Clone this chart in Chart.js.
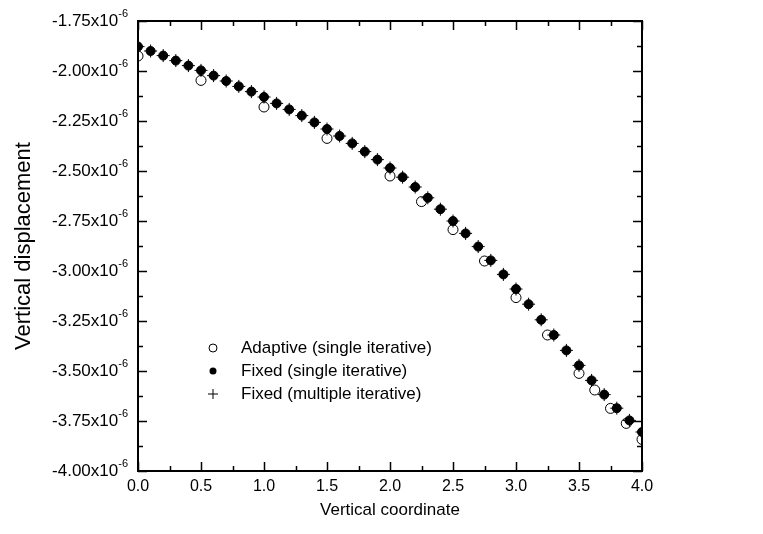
<!DOCTYPE html>
<html>
<head>
<meta charset="utf-8">
<script src="https://cdn.jsdelivr.net/npm/chart.js@4/dist/chart.umd.min.js"></script>
<style>
html,body{margin:0;padding:0;background:#fff;}
canvas{display:block;}
</style>
</head>
<body>
<canvas id="c" width="763" height="534"></canvas>
<script>
// ---- data ----
const fixedX = [0.0,0.1,0.2,0.3,0.4,0.5,0.6,0.7,0.8,0.9,1.0,1.1,1.2,1.3,1.4,1.5,1.6,1.7,1.8,1.9,2.0,
                2.1,2.2,2.3,2.4,2.5,2.6,2.7,2.8,2.9,3.0,3.1,3.2,3.3,3.4,3.5,3.6,3.7,3.8,3.9,4.0];
const fixedSingleY = [-1.878e-6,-1.900e-6,-1.923e-6,-1.948e-6,-1.973e-6,-1.997e-6,-2.023e-6,-2.050e-6,-2.077e-6,-2.103e-6,
                -2.130e-6,-2.162e-6,-2.192e-6,-2.223e-6,-2.257e-6,-2.290e-6,-2.325e-6,-2.362e-6,-2.403e-6,-2.443e-6,
                -2.485e-6,-2.531e-6,-2.580e-6,-2.634e-6,-2.691e-6,-2.750e-6,-2.812e-6,-2.878e-6,-2.947e-6,-3.017e-6,
                -3.090e-6,-3.166e-6,-3.244e-6,-3.320e-6,-3.397e-6,-3.472e-6,-3.547e-6,-3.618e-6,-3.686e-6,-3.747e-6,-3.805e-6];
const fixedMultipleY = [-1.878e-6,-1.900e-6,-1.923e-6,-1.948e-6,-1.973e-6,-1.997e-6,-2.023e-6,-2.050e-6,-2.077e-6,-2.103e-6,
                -2.130e-6,-2.162e-6,-2.192e-6,-2.223e-6,-2.257e-6,-2.290e-6,-2.325e-6,-2.362e-6,-2.403e-6,-2.443e-6,
                -2.485e-6,-2.531e-6,-2.580e-6,-2.634e-6,-2.691e-6,-2.750e-6,-2.812e-6,-2.878e-6,-2.947e-6,-3.017e-6,
                -3.090e-6,-3.166e-6,-3.244e-6,-3.320e-6,-3.397e-6,-3.472e-6,-3.547e-6,-3.618e-6,-3.686e-6,-3.747e-6,-3.805e-6];
const adaptiveX = [0.0,0.5,1.0,1.5,2.0,2.25,2.5,2.75,3.0,3.25,3.5,3.625,3.75,3.875,4.0];
const adaptiveY = [-1.925e-6,-2.047e-6,-2.180e-6,-2.337e-6,-2.525e-6,-2.653e-6,-2.793e-6,-2.950e-6,-3.133e-6,-3.320e-6,
                   -3.512e-6,-3.595e-6,-3.687e-6,-3.762e-6,-3.842e-6];
const seriesLabels = ['Adaptive (single iterative)','Fixed (single iterative)','Fixed (multiple iterative)'];
const xTitle = 'Vertical coordinate';
const yTitle = 'Vertical displacement';
const yMin = -4.0e-6, yMax = -1.75e-6, yStep = 0.125e-6;
const xMin = 0, xMax = 4, xStep = 0.25;

const FONT = '"Liberation Sans", Arial, sans-serif';
const toPts = (xs, ys) => xs.map((x, i) => ({x: x, y: ys[i]}));

const framePlugin = {
  id: 'frameTicks',
  afterDatasetsDraw(chart) {
    const ctx = chart.ctx, a = chart.chartArea;
    const xs = chart.scales.x, ys = chart.scales.y;
    ctx.save();
    ctx.strokeStyle = '#000';
    ctx.lineWidth = 1.5;
    ctx.beginPath();
    xs.ticks.forEach((t, i) => {
      const px = Math.round(xs.getPixelForValue(t.value)) + 0.5;
      const len = (i % 2 === 0) ? 9 : 5;
      ctx.moveTo(px, a.bottom); ctx.lineTo(px, a.bottom - len);
      ctx.moveTo(px, a.top); ctx.lineTo(px, a.top + len);
    });
    ys.ticks.forEach((t, i) => {
      const py = Math.round(ys.getPixelForValue(t.value)) + 0.5;
      const len = (i % 2 === 0) ? 9 : 5;
      ctx.moveTo(a.left, py); ctx.lineTo(a.left + len, py);
      ctx.moveTo(a.right, py); ctx.lineTo(a.right - len, py);
    });
    ctx.stroke();
    ctx.lineWidth = 2;
    ctx.strokeRect(a.left, a.top, a.right - a.left, a.bottom - a.top);
    ctx.restore();
  },
  afterDraw(chart) {
    const ctx = chart.ctx, a = chart.chartArea, ys = chart.scales.y;
    ctx.save();
    ctx.fillStyle = '#000';
    ctx.textBaseline = 'middle';
    ctx.textAlign = 'right';
    const mainFont = '17px ' + FONT, supFont = '11px ' + FONT;
    const rightEdge = a.left - 10;
    ys.ticks.forEach((t, i) => {
      if (i % 2 !== 0) return;
      const py = ys.getPixelForValue(t.value);
      const main = (t.value * 1e6).toFixed(2) + 'x10';
      ctx.font = supFont;
      const sw = ctx.measureText('-6').width;
      ctx.fillText('-6', rightEdge, py - 7);
      ctx.font = mainFont;
      ctx.fillText(main, rightEdge - sw, py);
    });
    const lx = 213, tx = 241, rows = [348, 371, 394];
    ctx.textAlign = 'left';
    ctx.font = '17px ' + FONT;
    chart.data.datasets.forEach((ds, i) => {
      const y = rows[i];
      ctx.lineWidth = 1;
      ctx.strokeStyle = '#000';
      if (i === 0) {
        ctx.beginPath(); ctx.arc(lx, y, 4, 0, Math.PI * 2);
        ctx.fillStyle = '#fff'; ctx.fill(); ctx.stroke();
      } else if (i === 1) {
        ctx.beginPath(); ctx.arc(lx, y, 3.5, 0, Math.PI * 2);
        ctx.fillStyle = '#000'; ctx.fill();
      } else {
        ctx.beginPath();
        ctx.moveTo(lx - 5, y); ctx.lineTo(lx + 5, y);
        ctx.moveTo(lx, y - 5); ctx.lineTo(lx, y + 5);
        ctx.stroke();
      }
      ctx.fillStyle = '#000';
      ctx.fillText(ds.label, tx, y);
    });
    ctx.restore();
  }
};

new Chart(document.getElementById('c'), {
  type: 'scatter',
  data: {
    datasets: [
      {label: seriesLabels[0], data: toPts(adaptiveX, adaptiveY), order: 2,
       pointStyle: 'circle', pointRadius: 5, borderWidth: 1, borderColor: '#000', backgroundColor: '#fff', clip: 0},
      {label: seriesLabels[1], data: toPts(fixedX, fixedSingleY), order: 1,
       pointStyle: 'circle', pointRadius: 4.5, borderWidth: 1, borderColor: '#000', backgroundColor: '#000', clip: 0},
      {label: seriesLabels[2], data: toPts(fixedX, fixedMultipleY), order: 0,
       pointStyle: 'cross', pointRadius: 6.5, borderWidth: 1, borderColor: '#000', backgroundColor: '#000', clip: 0}
    ]
  },
  options: {
    responsive: false,
    animation: false,
    events: [],
    layout: {padding: {left: 0, top: 21, right: 121, bottom: 0}},
    plugins: {legend: {display: false}, tooltip: {enabled: false}},
    scales: {
      x: {
        type: 'linear', min: xMin, max: xMax,
        grid: {display: false, drawTicks: false}, border: {display: false},
        ticks: {stepSize: xStep, autoSkip: false, maxRotation: 0, padding: 6, color: '#000',
                font: {family: FONT, size: 16},
                callback: (v, i) => (i % 2 === 0 ? Number(v).toFixed(1) : '')},
        title: {display: true, text: xTitle, color: '#000', font: {family: FONT, size: 17}, padding: {top: 0, bottom: 13}},
        afterFit: (s) => { s.height = 63; }
      },
      y: {
        type: 'linear', min: yMin, max: yMax,
        grid: {display: false, drawTicks: false}, border: {display: false},
        ticks: {stepSize: yStep, display: false, autoSkip: false},
        title: {display: true, text: yTitle, color: '#000', font: {family: FONT, size: 22}, padding: {top: 11, bottom: 0}},
        afterFit: (s) => { s.width = 138; }
      }
    }
  },
  plugins: [framePlugin]
});
</script>
</body>
</html>
